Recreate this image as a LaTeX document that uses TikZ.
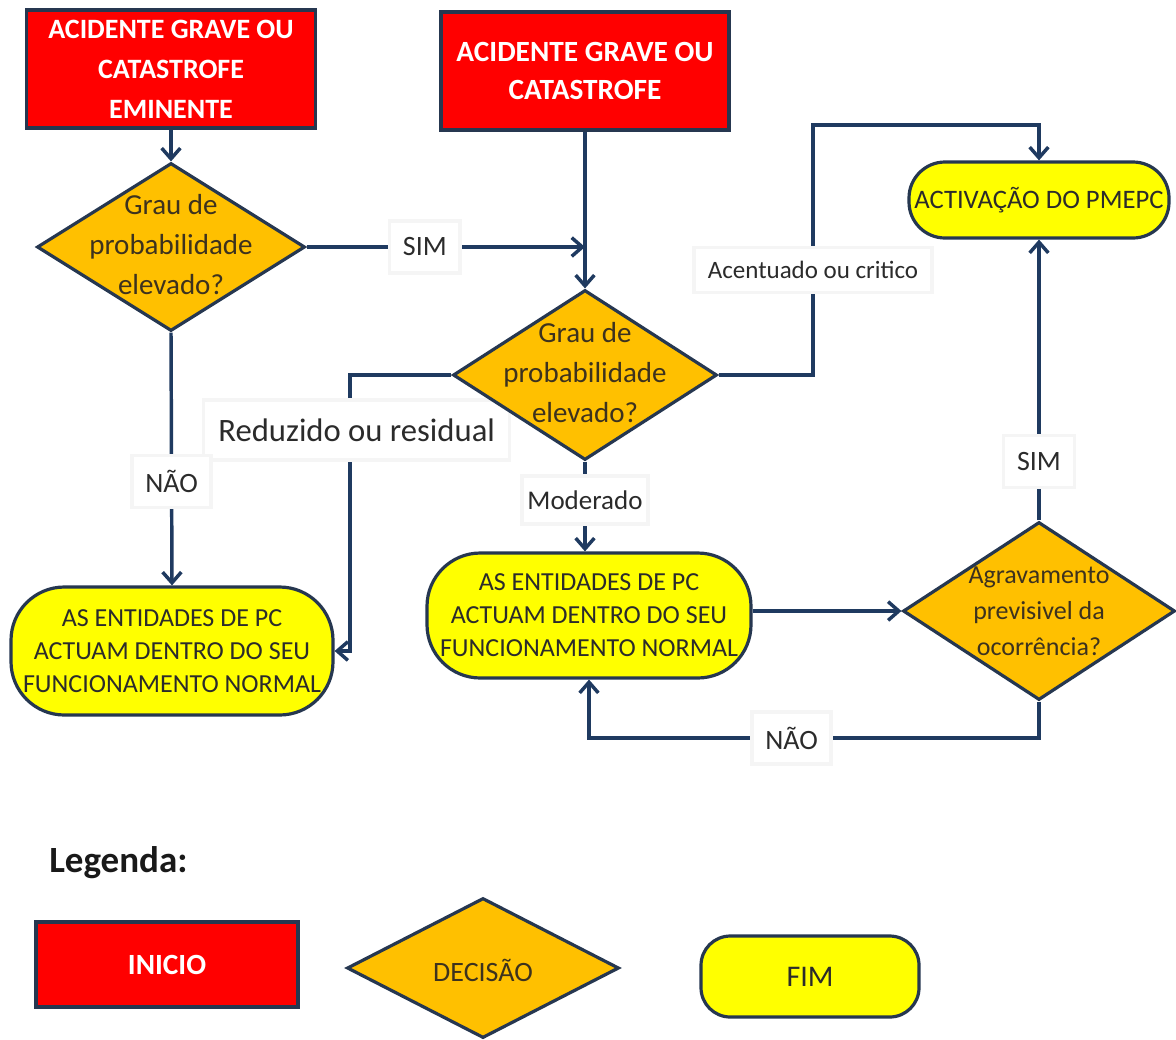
\documentclass[tikz,border=0pt]{standalone}
\usepackage{fontspec}
\setmainfont{Carlito}
\usetikzlibrary{shapes.geometric,arrows.meta}
\definecolor{navy}{HTML}{1F3A60}
\definecolor{edgec}{HTML}{263750}
\definecolor{redf}{HTML}{FF0000}
\definecolor{orangef}{HTML}{FFC000}
\definecolor{yellowf}{HTML}{FFFF00}
\definecolor{dtxt}{HTML}{3D321E}
\definecolor{ltxt}{HTML}{2B2B2B}
\pgfdeclarelayer{bg}
\pgfsetlayers{bg,main}
\begin{document}
\begin{tikzpicture}[x=0.75pt,y=-0.75pt,
 startbox/.style={draw=edgec,line width=2.5pt,fill=redf,text=white,align=center,inner sep=0pt},
 decbox/.style={diamond,draw=edgec,line width=2.4pt,fill=orangef,inner sep=0pt},
 dectext/.style={text=dtxt,align=center,inner sep=0pt},
 endbox/.style={draw=edgec,line width=2.4pt,fill=yellowf,text=ltxt,align=center,inner sep=0pt},
 arr/.style={draw=navy,line width=2.6pt,-{Straight Barb[length=8pt,width=14pt]}},
 lbl/.style={fill=white,draw=black!4,text=ltxt,inner xsep=10pt,inner ysep=0pt,minimum height=39pt,font=\fontsize{21}{25}\selectfont},
]
\useasboundingbox (0,0) rectangle (1176,1039);
\begin{pgfonlayer}{bg}
\fill[white] (0,0) rectangle (1176,1039);
\end{pgfonlayer}

% start boxes
\node[startbox,minimum width=216.75pt,minimum height=88.5pt,font=\fontsize{21}{30}\selectfont\bfseries] (b1) at (171,69) {ACIDENTE GRAVE OU\\CATASTROFE\\EMINENTE};
\node[startbox,minimum width=216pt,minimum height=88.5pt,font=\fontsize{22}{28.5}\selectfont\bfseries] (b2) at (585,71) {ACIDENTE GRAVE OU\\CATASTROFE};

% decisions
\node[decbox,minimum width=201pt,minimum height=126pt] (d1) at (171,247) {};
\node[dectext,font=\fontsize{21.75}{30}\selectfont] (d1t) at ([yshift=2pt]d1.center) {Grau de\\probabilidade\\elevado?};
\node[decbox,minimum width=198pt,minimum height=127.5pt] (d2) at (585,375) {};
\node[dectext,font=\fontsize{21.75}{30}\selectfont] (d2t) at ([yshift=2pt]d2.center) {Grau de\\probabilidade\\elevado?};
\node[decbox,minimum width=204pt,minimum height=133.5pt] (d3) at (1039,611) {};
\node[dectext,font=\fontsize{19.5}{27}\selectfont] (d3t) at (d3.center) {Agravamento\\previsivel da\\ocorrência?};

% end nodes
\node[endbox,rounded corners=27pt,minimum width=195pt,minimum height=57pt,font=\fontsize{20}{24}\selectfont] (act) at (1039,200) {ACTIVAÇÃO DO PMEPC};
\node[endbox,rounded corners=40pt,minimum width=241.5pt,minimum height=96pt,font=\fontsize{19.5}{24.75}\selectfont] (y1) at (172,651) {AS ENTIDADES DE PC\\ACTUAM DENTRO DO SEU\\FUNCIONAMENTO NORMAL};
\node[endbox,rounded corners=40pt,minimum width=243pt,minimum height=93.75pt,font=\fontsize{19.5}{24.75}\selectfont] (y2) at (589,615.5) {AS ENTIDADES DE PC\\ACTUAM DENTRO DO SEU\\FUNCIONAMENTO NORMAL};

% junction coordinates
\coordinate (j1) at (585,247);
\coordinate (k1) at (813,375);
\coordinate (k2) at (813,125);
\coordinate (k3) at (1039,125);
\coordinate (r1) at (350,375);
\coordinate (n1) at (1039,738);

\begin{pgfonlayer}{bg}
\draw[arr] (b1.south) -- (d1.north);
\draw[arr] (d1.east) -- node[lbl,pos=0.425] (lsim1) {SIM} (j1);
\draw[arr] (b2.south) -- (d2.north);
\draw[arr] (d2.east) -- (k1) -- node[lbl,pos=0.42,minimum height=34pt,inner xsep=10.5pt,font=\fontsize{18.75}{22}\selectfont] (lacc) {Acentuado ou critico} (k2) -- (k3) -- (act.north);
\draw[arr] (d2.west) -- (r1) -- node[lbl,pos=0.2,xshift=5pt,minimum height=45pt,inner xsep=11pt,font=\fontsize{24.5}{28}\selectfont] (lred) {Reduzido ou residual} (r1 |- y1.east) -- (y1.east);
\draw[arr] (d1.south) -- node[lbl,pos=0.59] (lnao1) {NÃO} (y1.north);
\draw[arr] (d2.south) -- node[lbl,pos=0.43,minimum height=36pt,inner xsep=4pt,font=\fontsize{20.25}{24}\selectfont] (lmod) {Moderado} (d2.south |- y2.north);
\draw[arr] (y2.east |- d3.west) -- (d3.west);
\draw[arr] (d3.north) -- node[lbl,pos=0.21] (lsim2) {SIM} (act.south);
\draw[arr] (d3.south) -- (n1) -- node[lbl,pos=0.55] (lnao2) {NÃO} (n1 -| y2.south) -- (y2.south);
\end{pgfonlayer}

% legend
\node[anchor=west,inner sep=0pt,text=black!90,font=\fontsize{27.75}{32}\selectfont\bfseries] (leg) at (49,863) {Legenda:};
\node[startbox,minimum width=196.5pt,minimum height=63.75pt,font=\fontsize{22}{26}\selectfont\bfseries] (li) at (167,964.5) {INICIO};
\node[decbox,minimum width=204pt,minimum height=105pt] (ld) at (483,968) {};
\node[dectext,font=\fontsize{21}{25}\selectfont] (ldt) at ([yshift=-2pt]ld.center) {DECISÃO};
\node[endbox,rounded corners=22pt,minimum width=163.5pt,minimum height=60.75pt,font=\fontsize{22.5}{26}\selectfont] (lf) at (810,976.5) {FIM};
\end{tikzpicture}
\end{document}
